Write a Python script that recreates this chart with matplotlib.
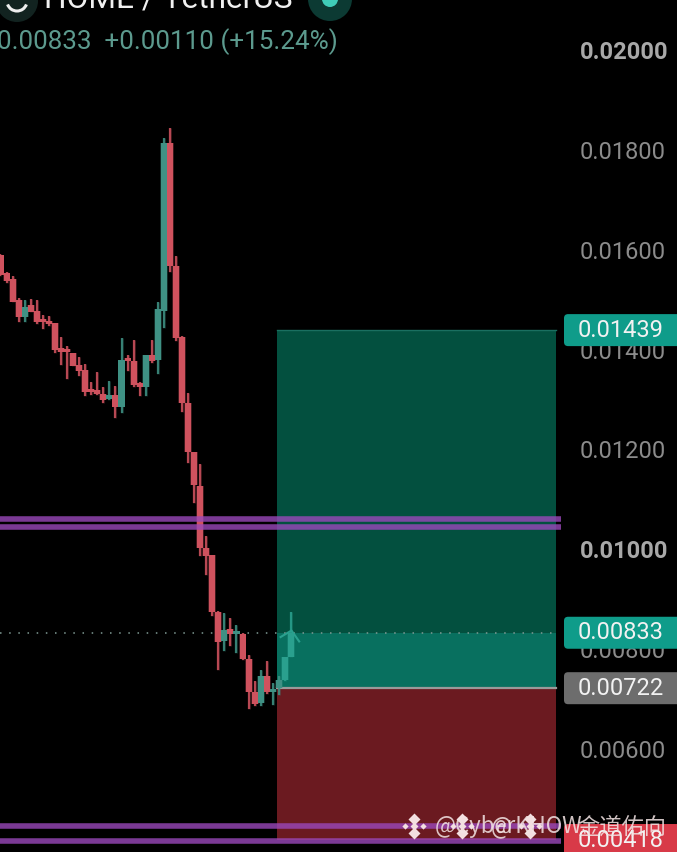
import matplotlib
matplotlib.use("Agg")
import matplotlib.pyplot as plt
from matplotlib.patches import FancyBboxPatch, Circle, Arc
from matplotlib.path import Path
import numpy as np

opens = [0.01590, 0.01554, 0.01541, 0.01500, 0.01466, 0.01490, 0.01478, 0.01460, 0.01458, 0.01453,
         0.01403, 0.01399, 0.01394, 0.01369, 0.01359, 0.01321, 0.01319, 0.01311, 0.01301, 0.01309,
         0.01285, 0.01384, 0.01378, 0.01333, 0.01325, 0.01389, 0.01379, 0.01478, 0.01813, 0.01568,
         0.01426, 0.01293, 0.01195, 0.01127, 0.01002, 0.00988, 0.00874, 0.00816, 0.00840, 0.00831,
         0.00831, 0.00780, 0.00715, 0.00692, 0.00747, 0.00715, 0.00722, 0.00738, 0.00784]
highs = [0.01592, 0.01556, 0.01548, 0.01503, 0.01500, 0.01501, 0.01500, 0.01470, 0.01468, 0.01453,
         0.01426, 0.01407, 0.01394, 0.01385, 0.01371, 0.01336, 0.01356, 0.01326, 0.01338, 0.01327,
         0.01423, 0.01389, 0.01419, 0.01336, 0.01389, 0.01419, 0.01496, 0.01823, 0.01843, 0.01588,
         0.01427, 0.01314, 0.01195, 0.01171, 0.01026, 0.00988, 0.00876, 0.00872, 0.00862, 0.00849,
         0.00832, 0.00789, 0.00736, 0.00759, 0.00776, 0.00732, 0.00746, 0.00784, 0.00874]
lows = [0.01548, 0.01533, 0.01496, 0.01456, 0.01456, 0.01476, 0.01452, 0.01441, 0.01448, 0.01394,
        0.01369, 0.01341, 0.01367, 0.01347, 0.01307, 0.01309, 0.01309, 0.01293, 0.01299, 0.01264,
        0.01273, 0.01358, 0.01326, 0.01307, 0.01307, 0.01374, 0.01351, 0.01443, 0.01556, 0.01418,
        0.01276, 0.01173, 0.01093, 0.00986, 0.00949, 0.00867, 0.00759, 0.00796, 0.00806, 0.00792,
        0.00778, 0.00680, 0.00687, 0.00687, 0.00711, 0.00689, 0.00709, 0.00736, 0.00784]
closes = [0.01550, 0.01538, 0.01496, 0.01466, 0.01486, 0.01476, 0.01456, 0.01456, 0.01452, 0.01399,
          0.01395, 0.01396, 0.01367, 0.01358, 0.01316, 0.01316, 0.01311, 0.01299, 0.01309, 0.01285,
          0.01379, 0.01378, 0.01329, 0.01325, 0.01389, 0.01378, 0.01481, 0.01813, 0.01568, 0.01423,
          0.01293, 0.01195, 0.01129, 0.01002, 0.00987, 0.00874, 0.00814, 0.00838, 0.00831, 0.00832,
          0.00780, 0.00715, 0.00691, 0.00746, 0.00715, 0.00718, 0.00738, 0.00784, 0.00833]

price_ticks = [0.006, 0.008, 0.010, 0.012, 0.014, 0.016, 0.018, 0.020]
bold_ticks = [0.010, 0.020]

target = 0.01439
last = 0.00833
entry = 0.00722
stop = 0.00418
box_start = 45.7
box_end = 91.8

upper_zone = [0.01060, 0.01045]
lower_zone = [0.00446, 0.00417]

tags = [("0.01439", target, "#0f9c8a"), ("0.00833", last, "#0f9c8a"),
        ("0.00722", entry, "#6d6d6d"), ("0.00418", stop, "#d83a48")]

W, H = 677, 852
FONT = "Roboto"
RED = "#cf525e"
GREEN = "#3f9184"


def px(x, y):
    return x / W, 1 - y / H


fig = plt.figure(figsize=(W / 100, H / 100), dpi=100, facecolor="black")
ax = fig.add_axes([0, 0, 1, 1], facecolor="black")
ax.set_xlim(-0.08, 111.8)
ax.set_ylim(0.00394, 0.02100)
for s in ax.spines.values():
    s.set_visible(False)
ax.xaxis.set_visible(False)
ax.yaxis.tick_right()
ax.set_yticks(price_ticks)
ax.set_yticklabels(["%.5f" % t for t in price_ticks], family=FONT, fontsize=17, color="#8b8b8b", ha="left")
ax.tick_params(axis="y", length=0, pad=-70)
for t, lab in zip(price_ticks, ax.get_yticklabels()):
    if t in bold_ticks:
        lab.set_fontweight("bold")
        lab.set_color("#a8a8a8")

# position tool
ax.fill_between([box_start, box_end], last, target, color="#03503f", lw=0, zorder=1)
ax.fill_between([box_start, box_end], entry, last, color="#08705f", lw=0, zorder=1)
ax.fill_between([box_start, box_end], stop, entry, color="#6b1a20", lw=0, zorder=1)
ax.plot([box_start, box_end], [target, target], color="#1a6f60", lw=1, zorder=1.5)
ax.plot([box_start, box_end], [entry, entry], color="#9a9a9a", lw=1.6, zorder=1.5)
ax.plot([0, box_end], [last, last], color="#7f9a94", lw=1.1, ls=(0, (1, 5)), zorder=1.5)

# candles
x = np.arange(len(opens))
o, h, l, c = map(np.array, (opens, highs, lows, closes))
cols = [GREEN if b >= a else RED for a, b in zip(o, c)]
cols[-1] = cols[-2] = "#2aa08e"
bottoms = np.minimum(o, c)
heights = np.maximum(np.abs(c - o), 0.00006)
ax.vlines(x, l, h, colors=cols, lw=2.2, alpha=0.25, zorder=2.8)
ax.bar(x, heights, bottom=bottoms, width=1.3, color=cols, lw=0, alpha=0.3, zorder=2.8)
ax.vlines(x, l, h, colors=cols, lw=1.6, alpha=0.85, zorder=3)
ax.bar(x, heights, bottom=bottoms, width=1.0, color=cols, lw=0, zorder=3)
chevron = Path([(-1, -0.6), (0, 0), (0.7, -1)], [Path.MOVETO, Path.LINETO, Path.LINETO])
ax.plot([x[-1]], [last + 0.00005], marker=chevron, ms=17, mfc="none", mec="#2aa08e", mew=1.5, zorder=3)

# support and resistance zones
for z in upper_zone + lower_zone:
    ax.plot([-0.08, 92.6], [z, z], color="#9a48ba", lw=4.0, alpha=0.8, solid_capstyle="butt", zorder=4)

# price tags
for txt, val, col in tags:
    yc = H - ax.transData.transform((0, val))[1]
    x0, y0 = px(564, yc + 16)
    fig.add_artist(FancyBboxPatch((x0, y0), 130 / W, 32 / H, boxstyle="round,pad=0,rounding_size=0.006",
                                  transform=fig.transFigure, fc=col, ec="none", mutation_aspect=W / H))
    tx, ty = px(621, yc)
    fig.text(tx, ty, txt, family=FONT, fontsize=17, color="#f2f2f2", ha="center", va="center")

# header
tx, ty = px(44, 8)
fig.text(tx, ty, "HOME / TetherUS", family=FONT, fontsize=22.8, color="#f0f0f0", va="baseline")
tx, ty = px(-3, 42)
fig.text(tx, ty, "0.00833  +0.00110 (+15.24%)", family=FONT, fontsize=18.7, color="#5c9a8e", va="center")
fig.add_artist(Circle((17, H - 1), 21, transform=None, fc="#122320", ec="none"))
fig.add_artist(Arc((17, H - 1), 20, 20, theta1=200, theta2=340, transform=None, ec="#eeeeee", lw=2.2))
fig.add_artist(Circle((330, H + 1), 22, transform=None, fc="#0c3a33", ec="none"))
fig.add_artist(Circle((330, H + 1), 8, transform=None, fc="#3fcdb8", ec="none"))

# watermark
for cx in (414, 462, 530):
    for dx, dy, ms in ((0, 0, 5), (-9, 0, 4), (9, 0, 4), (0, -7, 7.5), (0, 7, 7.5)):
        mx, my = px(cx + dx, 826 + dy)
        fig.add_artist(plt.Line2D([mx], [my], marker="D", ms=ms * 0.8, mfc="#f3dfe0", mec="none",
                                  transform=fig.transFigure))
for tx0, s in ((435, "@CyberKHOW"), (491, "@"), (577, "金道佑向")):
    tx, ty = px(tx0, 827)
    fig.text(tx, ty, s, family=["Noto Sans CJK SC", "DejaVu Sans"], fontsize=16, color="#f3e4e4", alpha=0.85, va="center")

fig.savefig("out.png", dpi=100, facecolor="black")
